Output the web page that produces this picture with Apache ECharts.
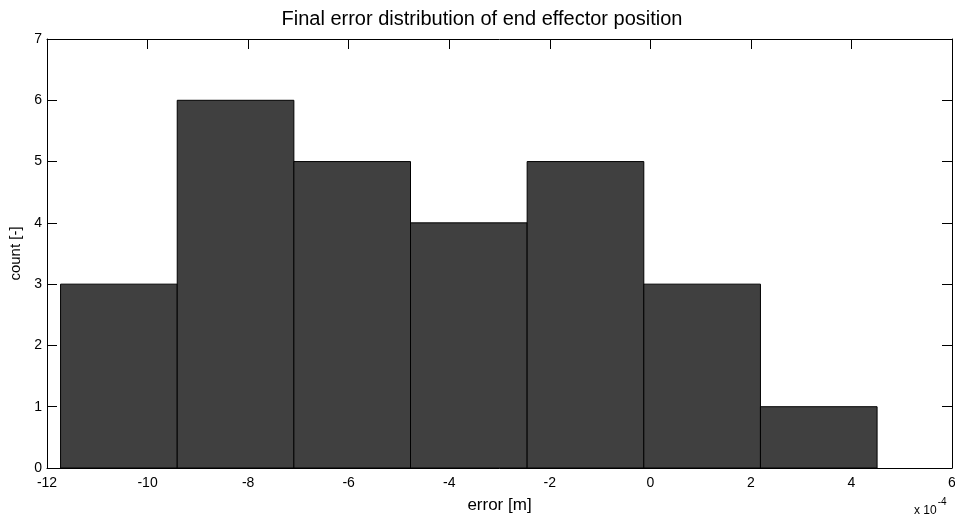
<!DOCTYPE html>
<html><head><meta charset="utf-8">
<script src="https://cdn.jsdelivr.net/npm/echarts@6/dist/echarts.min.js"></script>
<style>html,body{margin:0;padding:0;background:#fff}#c{width:955px;height:517px}</style>
</head><body><div id="c"></div>
<script>
// bin edges in units of 1e-4 m
const binStarts = [-11.73, -9.41, -7.09, -4.77, -2.45, -0.13, 2.19];
const binEnds   = [-9.41, -7.09, -4.77, -2.45, -0.13, 2.19, 4.51];
const counts    = [3, 6, 5, 4, 5, 3, 1];
const xTicks = [-12, -10, -8, -6, -4, -2, 0, 2, 4, 6];
const yTicks = [0, 1, 2, 3, 4, 5, 6, 7];

const data = counts.map((c, i) => [binStarts[i], binEnds[i], c]);
const FONT = '"Liberation Sans", Arial, sans-serif';

const chart = echarts.init(document.getElementById('c'), null, {renderer: 'canvas'});
function axisCommon() {
  return {
    axisLine: {show: true, onZero: false, lineStyle: {color: '#000', width: 1}},
    axisTick: {show: true, inside: true, length: 10, lineStyle: {color: '#000'}},
    splitLine: {show: false}
  };
}
chart.setOption({
  animation: false,
  backgroundColor: '#fff',
  title: {
    text: 'Final error distribution of end effector position',
    left: 477, top: 4, textAlign: 'center',
    textStyle: {fontFamily: FONT, fontSize: 20, fontWeight: 'normal', color: '#000'}
  },
  grid: {left: 47, right: 3, top: 39, bottom: 49, outerBoundsMode: 'none', containLabel: false},
  xAxis: [
    Object.assign({
      type: 'value', min: xTicks[0], max: xTicks[xTicks.length - 1], interval: 2,
      position: 'bottom',
      name: 'error [m]', nameLocation: 'middle', nameGap: 29,
      nameTextStyle: {fontFamily: FONT, fontSize: 17, color: '#000'},
      axisLabel: {fontFamily: FONT, fontSize: 14, color: '#000', margin: 8, showMinLabel: true, showMaxLabel: true, hideOverlap: false}
    }, axisCommon()),
    Object.assign({
      type: 'value', min: xTicks[0], max: xTicks[xTicks.length - 1], interval: 2,
      position: 'top', axisLabel: {show: false}
    }, axisCommon())
  ],
  yAxis: [
    Object.assign({
      type: 'value', min: yTicks[0], max: yTicks[yTicks.length - 1], interval: 1,
      position: 'left',
      name: 'count [-]', nameLocation: 'middle', nameGap: 20,
      nameTextStyle: {fontFamily: FONT, fontSize: 15, color: '#000'},
      axisLabel: {fontFamily: FONT, fontSize: 14, color: '#000', margin: 5, showMinLabel: true, showMaxLabel: true, hideOverlap: false}
    }, axisCommon()),
    Object.assign({
      type: 'value', min: yTicks[0], max: yTicks[yTicks.length - 1], interval: 1,
      position: 'right', axisLabel: {show: false}
    }, axisCommon())
  ],
  graphic: [{
    type: 'text', left: 914, top: 497,
    style: {
      text: '{a|x 10}{b|-4}',
      rich: {
        a: {fontFamily: FONT, fontSize: 12, fill: '#000', padding: [8, 0, 0, 0]},
        b: {fontFamily: FONT, fontSize: 10, fill: '#000', verticalAlign: 'top', padding: [0, 0, 8, 1]}
      }
    }
  }],
  series: [{
    type: 'custom',
    xAxisIndex: 0, yAxisIndex: 0,
    data: data,
    encode: {x: [0, 1], y: 2},
    renderItem: function (params, api) {
      const p0 = api.coord([api.value(0), 0]);
      const p1 = api.coord([api.value(1), api.value(2)]);
      return {
        type: 'rect',
        shape: {x: p0[0], y: p1[1], width: p1[0] - p0[0], height: p0[1] - p1[1]},
        style: {fill: '#404040', stroke: '#000', lineWidth: 1}
      };
    }
  }]
});
</script></body></html>
